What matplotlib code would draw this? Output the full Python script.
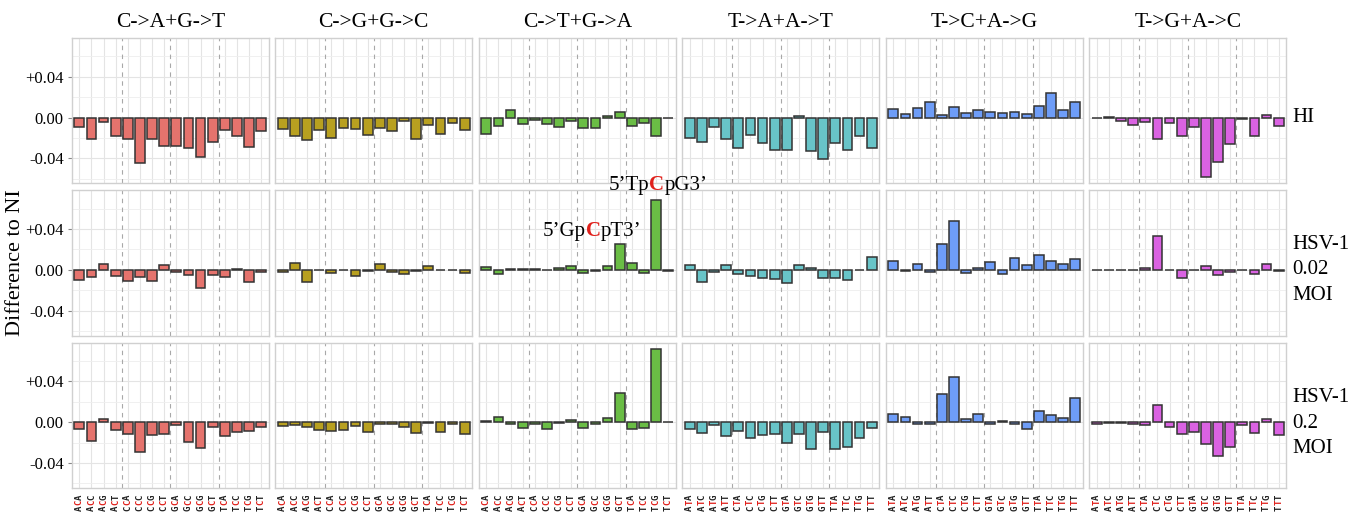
"""
Mutation context differences to NI: 3 conditions x 6 substitution types,
16 trinucleotide contexts per panel.
"""
import matplotlib
matplotlib.use('Agg')
import matplotlib.pyplot as plt
from matplotlib import transforms

SERIF = 'Liberation Serif'

# Panel titles and colours
MUTATIONS = ['C->A+G->T', 'C->G+G->C', 'C->T+G->A', 'T->A+A->T', 'T->C+A->G', 'T->G+A->C']
COLORS = ['#E5736D', '#B8A020', '#6ABD45', '#68C4C8', '#6E9DF8', '#DA62E2']
ROW_LABELS = ['HI', 'HSV-1\n0.02\nMOI', 'HSV-1\n0.2\nMOI']

# Trinucleotide contexts (middle base is the mutated one)
C_CONTEXTS = ['ACA', 'ACC', 'ACG', 'ACT', 'CCA', 'CCC', 'CCG', 'CCT',
              'GCA', 'GCC', 'GCG', 'GCT', 'TCA', 'TCC', 'TCG', 'TCT']
T_CONTEXTS = ['ATA', 'ATC', 'ATG', 'ATT', 'CTA', 'CTC', 'CTG', 'CTT',
              'GTA', 'GTC', 'GTG', 'GTT', 'TTA', 'TTC', 'TTG', 'TTT']

# Difference to NI, row HI
HI = [
    [-0.009, -0.021, -0.004, -0.018, -0.021, -0.045, -0.021, -0.028,
     -0.028, -0.030, -0.039, -0.024, -0.012, -0.018, -0.029, -0.013],
    [-0.011, -0.018, -0.022, -0.012, -0.020, -0.010, -0.011, -0.017,
     -0.010, -0.013, -0.003, -0.021, -0.007, -0.016, -0.005, -0.012],
    [-0.016, -0.008, 0.007, -0.006, -0.002, -0.006, -0.009, -0.003,
     -0.010, -0.010, 0.002, 0.005, -0.008, -0.005, -0.018, -0.0005],
    [-0.020, -0.024, -0.009, -0.021, -0.030, -0.017, -0.025, -0.032,
     -0.032, 0.002, -0.033, -0.041, -0.025, -0.032, -0.018, -0.030],
    [0.0085, 0.0036, 0.009, 0.015, 0.0026, 0.010, 0.004, 0.007,
     0.0056, 0.004, 0.005, 0.0036, 0.011, 0.024, 0.007, 0.015],
    [-0.0005, 0.001, -0.003, -0.007, -0.004, -0.021, -0.005, -0.018,
     -0.009, -0.058, -0.044, -0.026, -0.001, -0.018, 0.003, -0.008],
]

# Difference to NI, row HSV-1 0.02 MOI
MOI_002 = [
    [-0.010, -0.007, 0.0055, -0.006, -0.011, -0.007, -0.011, 0.0045,
     -0.002, -0.0055, -0.018, -0.0055, -0.007, 0.0006, -0.012, -0.002],
    [-0.002, 0.007, -0.012, -0.0006, -0.003, -0.0006, -0.006, -0.0015,
     0.0055, -0.002, -0.004, -0.0013, 0.004, -0.0003, -0.0003, -0.003],
    [0.003, -0.004, 0.001, 0.001, 0.001, 0.0, 0.002, 0.004,
     -0.003, -0.001, 0.0035, 0.025, 0.007, -0.003, 0.069, -0.001],
    [0.0045, -0.012, -0.002, 0.005, -0.004, -0.006, -0.008, -0.009,
     -0.013, 0.005, 0.002, -0.0075, -0.008, -0.0095, 0.0, 0.013],
    [0.0087, -0.001, 0.006, -0.0025, 0.025, 0.048, -0.003, 0.0015,
     0.008, -0.004, 0.012, 0.005, 0.015, 0.009, 0.006, 0.011],
    [0.0, 0.0, 0.0, 0.0, 0.0015, 0.033, 0.0, -0.0075,
     0.0, 0.004, -0.0055, -0.0025, 0.0, -0.004, 0.006, -0.001],
]

# Difference to NI, row HSV-1 0.2 MOI
MOI_02 = [
    [-0.0065, -0.0185, 0.0035, -0.008, -0.012, -0.029, -0.0127, -0.012,
     -0.003, -0.0195, -0.0257, -0.0045, -0.0137, -0.0094, -0.0088, -0.005],
    [-0.004, -0.003, -0.0045, -0.008, -0.0088, -0.008, -0.004, -0.0098,
     -0.0016, -0.0016, -0.0045, -0.011, -0.0003, -0.0098, -0.0013, -0.0114],
    [0.001, 0.005, -0.002, -0.0055, -0.002, -0.007, -0.0007, 0.0023,
     -0.006, -0.002, 0.004, 0.029, -0.007, -0.0055, 0.0715, 0.0],
    [-0.0065, -0.011, -0.003, -0.014, -0.0085, -0.015, -0.0127, -0.0114,
     -0.020, -0.0114, -0.026, -0.0098, -0.0267, -0.024, -0.015, -0.0055],
    [0.008, 0.005, -0.0013, -0.002, 0.0276, 0.044, 0.0036, 0.008,
     -0.002, 0.0016, -0.002, -0.007, 0.0114, 0.0075, 0.004, 0.0234],
    [-0.002, -0.0007, -0.0007, -0.0016, -0.003, 0.0166, -0.005, -0.012,
     -0.0094, -0.021, -0.033, -0.024, -0.003, -0.011, 0.003, -0.0127],
]

ROWS = [HI, MOI_002, MOI_02]


def colored_text(ax, x, y, parts, transform, **kw):
    """Draw consecutive text pieces with their own colour/weight."""
    renderer = ax.figure.canvas.get_renderer()
    t = transform
    for s, color, weight in parts:
        txt = ax.text(x, y, s, color=color, fontweight=weight, transform=t,
                      clip_on=False, **kw)
        txt.draw(renderer)
        ex = txt.get_window_extent(renderer)
        t = transforms.offset_copy(txt.get_transform(), x=ex.width, units='dots')


fig = plt.figure(figsize=(13.53, 5.14), dpi=100)
gs = fig.add_gridspec(3, 6, left=72 / 1353, right=1286 / 1353,
                      top=1 - 38 / 514, bottom=1 - 488 / 514,
                      wspace=7 / 197, hspace=7 / 146)

x = list(range(16))
axes = [[None] * 6 for _ in range(3)]
for r, row_vals in enumerate(ROWS):
    for c, vals in enumerate(row_vals):
        ax = fig.add_subplot(gs[r, c])
        axes[r][c] = ax
        ax.bar(x, vals, width=0.8, color=COLORS[c], edgecolor='#333333',
               linewidth=1.1, zorder=3)
        ax.set_xlim(-0.6, 15.6)
        ax.set_ylim(-0.0645, 0.078)
        ax.set_yticks([-0.04, 0.0, 0.04])
        ax.set_yticks([-0.06, -0.02, 0.02, 0.06], minor=True)
        ax.set_xticks(x)
        ax.set_xticklabels([])
        ax.set_axisbelow(True)
        ax.grid(which='major', color='#E4E4E4', lw=0.8, zorder=0)
        ax.grid(which='minor', axis='y', color='#EEEEEE', lw=0.6, zorder=0)
        for xv in (3.5, 7.5, 11.5):
            ax.axvline(xv, color='#A8A8A8', ls=(0, (4, 4)), lw=0.8, zorder=1)
        for sp in ax.spines.values():
            sp.set_color('#D0D0D0')
            sp.set_linewidth(1.0)
        ax.tick_params(axis='x', length=0)
        ax.tick_params(axis='y', which='minor', length=0)
        if c == 0:
            ax.set_yticklabels(['-0.04', '0.00', '+0.04'], fontfamily=SERIF, fontsize=12)
            ax.tick_params(axis='y', length=3, color='#888888', pad=3)
        else:
            ax.tick_params(axis='y', labelleft=False, length=0)
        if r == 0:
            ax.set_title(MUTATIONS[c], fontfamily=SERIF, fontsize=15.5, pad=8)
        if r == 2:
            contexts = C_CONTEXTS if c < 3 else T_CONTEXTS
            fs = 6.5
            adv = 0.602 * fs
            for i, ctx in enumerate(contexts):
                for j, letter in enumerate(ctx):
                    k = 2 - j  # last letter closest to the axis
                    ax.annotate(letter, xy=(i, 0), xycoords=('data', 'axes fraction'),
                                xytext=(0, -4.5 - adv * (k + 0.5)), textcoords='offset points',
                                rotation=90, ha='center', va='center',
                                fontfamily='DejaVu Sans Mono', fontweight='bold',
                                fontsize=fs, color='#E0201B' if j == 1 else '#222222',
                                annotation_clip=False)

# Row labels on the right
row_y = [118, 270, 423]
for lab, yp in zip(ROW_LABELS, row_y):
    fig.text(1292 / 1353, 1 - yp / 514, lab, fontfamily=SERIF, fontsize=15,
             ha='left', va='center', linespacing=1.45)

fig.text(16 / 1353, 1 - 263 / 514, 'Difference to NI', rotation=90,
         fontfamily=SERIF, fontsize=16, ha='center', va='center')

# Annotations of the two C->T peaks
ann_ax = axes[1][2]
colored_text(ann_ax, 10.1, 0.0787,
             [('5\u2019Tp', 'black', 'normal'), ('C', '#E0201B', 'bold'),
              ('pG3\u2019', 'black', 'normal')],
             ann_ax.transData, fontfamily=SERIF, fontsize=15, va='baseline')
colored_text(ann_ax, 4.66, 0.0336,
             [('5\u2019Gp', 'black', 'normal'), ('C', '#E0201B', 'bold'),
              ('pT3\u2019', 'black', 'normal')],
             ann_ax.transData, fontfamily=SERIF, fontsize=15, va='baseline')

fig.savefig('out.png', dpi=100)
